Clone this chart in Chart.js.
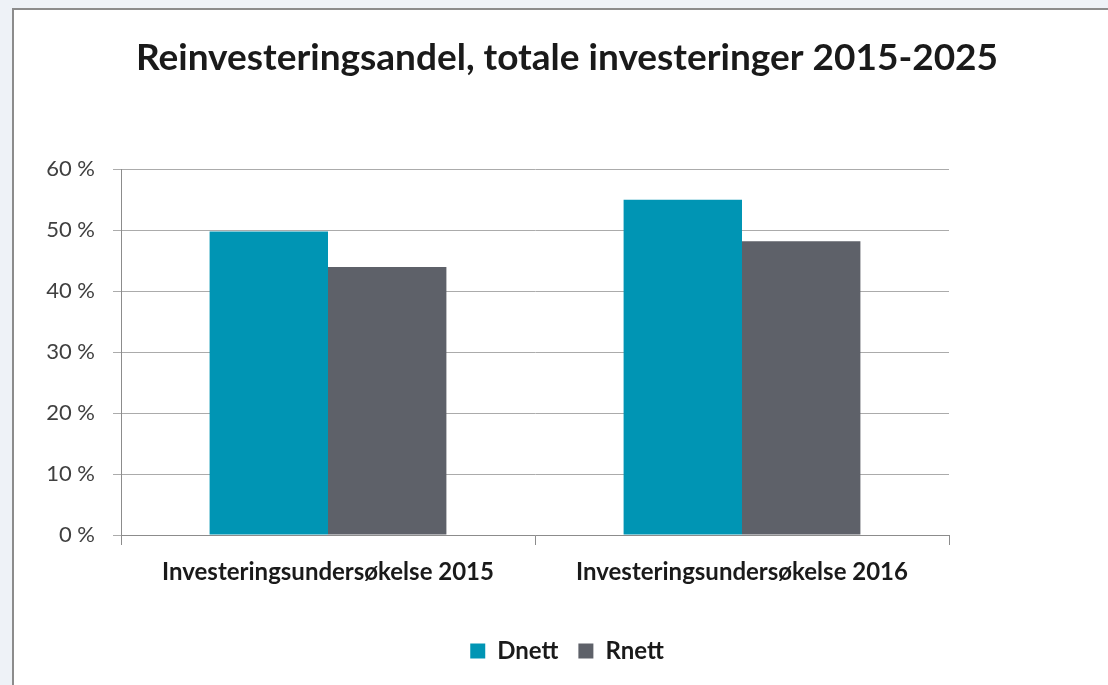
<!DOCTYPE html>
<html>
<head>
<meta charset="utf-8">
<script src="https://cdn.jsdelivr.net/npm/chart.js@4/dist/chart.umd.min.js"></script>
<style>
  html, body { margin: 0; padding: 0; background: #eef2f7; overflow: hidden; }
  #frame {
    position: absolute; left: 12px; top: 8px; width: 1110px; height: 690px;
    background: #fff; border: 2px solid #8c8c8c;
  }
  #wrap { position: absolute; left: 0; top: 0; width: 1094px; height: 675px; }
</style>
</head>
<body>
<div id="frame"><div id="wrap"><canvas id="chart"></canvas></div></div>
<script>
const categories = ['Investeringsundersøkelse 2015', 'Investeringsundersøkelse 2016']
const dnett = [49.8, 55.0]
const rnett = [44.0, 48.2]
const yTicks = [0, 10, 20, 30, 40, 50, 60]

const font = 'Lato, "Liberation Sans", sans-serif'

new Chart(document.getElementById('chart'), {
  type: 'bar',
  data: {
    labels: categories,
    datasets: [
      { label: 'Dnett', data: dnett, backgroundColor: '#0095b4', yAxisID: 'y' },
      { label: 'Rnett', data: rnett, backgroundColor: '#5e6169', yAxisID: 'y' }
    ]
  },
  options: {
    responsive: true,
    maintainAspectRatio: false,
    animation: false,
    layout: { padding: { left: 12, right: 0, top: 0, bottom: 12 } },
    datasets: { bar: { categoryPercentage: 0.572, barPercentage: 1 } },
    plugins: {
      title: {
        display: true,
        text: 'Reinvesteringsandel, totale investeringer 2015-2025',
        color: '#1a1a1a',
        font: { family: font, size: 37, weight: 'bold' },
        padding: { top: 26, bottom: 89 }
      },
      legend: {
        position: 'bottom',
        labels: {
          color: '#1a1a1a',
          font: { family: font, size: 24, weight: 'bold' },
          boxWidth: 15,
          boxHeight: 15,
          padding: 20
        }
      },
      tooltip: { enabled: false }
    },
    scales: {
      x: {
        grid: { drawOnChartArea: false, drawTicks: true, tickLength: 10, color: '#8c8c8c' },
        border: { color: '#8c8c8c' },
        ticks: { color: '#1a1a1a', padding: 13, font: { family: font, size: 24, weight: 'bold' } },
        afterFit: scale => { scale.height = 84 }
      },
      y: {
        min: yTicks[0],
        max: yTicks[yTicks.length - 1],
        afterBuildTicks: scale => { scale.ticks = yTicks.map(v => ({ value: v })) },
        grid: { color: '#ababab', tickLength: 8 },
        border: { color: '#8c8c8c' },
        ticks: {
          color: '#404040',
          padding: 18,
          font: { family: font, size: 22 },
          callback: v => v + ' %'
        },
        afterFit: scale => { scale.width = 95 }
      },
      y2: {
        position: 'right',
        grid: { display: false },
        border: { display: false },
        ticks: { display: false },
        afterFit: scale => { scale.width = 159 }
      }
    }
  }
})
</script>
</body>
</html>
